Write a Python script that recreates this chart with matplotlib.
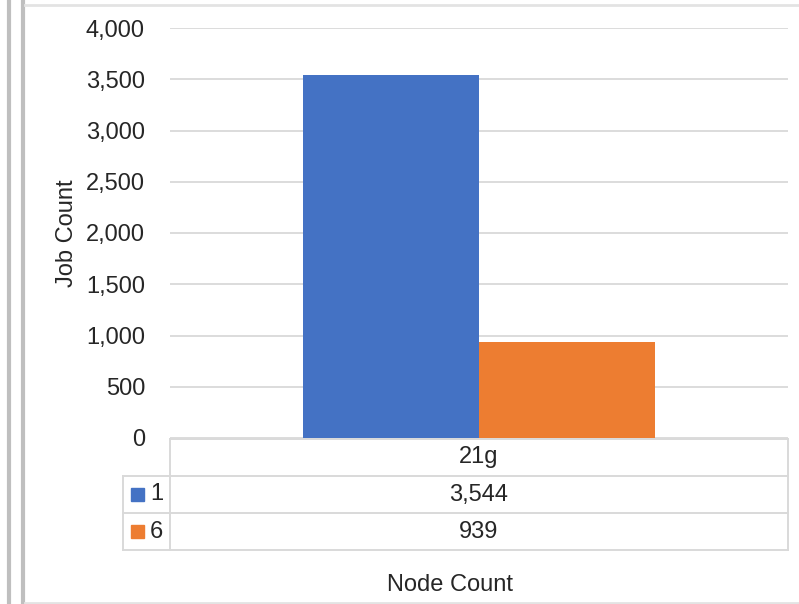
import matplotlib
matplotlib.use("Agg")
import matplotlib.pyplot as plt
from matplotlib.lines import Line2D
from matplotlib.patches import Rectangle

# ---- data ----
categories = ["21g"]
series_names = ["1", "6"]
series_values = [[3544], [939]]
series_colors = ["#4472C4", "#ED7D31"]
y_ticks = [0, 500, 1000, 1500, 2000, 2500, 3000, 3500, 4000]
y_label = "Job Count"
x_label = "Node Count"

W, H = 799, 604
plt.rcParams['font.family'] = ['Liberation Sans', 'DejaVu Sans']
FS = 17
TC = "#262626"
fig = plt.figure(figsize=(W / 100, H / 100), dpi=100)

def fx(px):
    return px / W

def fy(py):
    return 1 - py / H

# axes box in pixel coords
L, R, T, B = 170, 788, 28, 438
ax = fig.add_axes([fx(L), fy(B), fx(R) - fx(L), fy(T) - fy(B)])

bw = 0.285
n = len(series_names)
for i, (name, vals, col) in enumerate(zip(series_names, series_values, series_colors)):
    xs = [c + (i - n / 2) * bw for c in range(len(categories))]
    ax.bar(xs, vals, width=bw, align='edge', color=col, zorder=3)

ax.set_xlim(-0.5, len(categories) - 0.5)
ax.set_ylim(y_ticks[0], y_ticks[-1])
ax.set_yticks(y_ticks)
ax.set_yticklabels([f"{v:,}" for v in y_ticks], fontsize=FS, color=TC)
ax.tick_params(axis='y', length=0, pad=18)
ax.set_xticks([])
ax.grid(axis='y', color="#D9D9D9", linewidth=1.3, zorder=0)
for s in ax.spines.values():
    s.set_visible(False)
ax.set_ylabel(y_label, fontsize=FS, color=TC)
ax.yaxis.set_label_coords((78 - L) / (R - L), 0.5)

# ---- data table ----
lc = "#D9D9D9"
lw = 1.4
rows_y = [439, 476, 513, 550]
tl = 123

def hline(x0, x1, y):
    fig.add_artist(Line2D([fx(x0), fx(x1)], [fy(y), fy(y)], color=lc, lw=lw))

def vline(x, y0, y1):
    fig.add_artist(Line2D([fx(x), fx(x)], [fy(y0), fy(y1)], color=lc, lw=lw))

hline(L, R, rows_y[0])
for y in rows_y[1:]:
    hline(tl, R, y)
vline(L, rows_y[0], rows_y[-1])
vline(R, rows_y[0], rows_y[-1])
vline(tl, rows_y[1], rows_y[-1])

cx = (L + R) / 2
fig.text(fx(cx), fy((rows_y[0] + rows_y[1]) / 2), categories[0], ha='center', va='center',
         fontsize=FS, color=TC)
for i, (name, vals, col) in enumerate(zip(series_names, series_values, series_colors)):
    ymid = (rows_y[i + 1] + rows_y[i + 2]) / 2
    fig.text(fx(cx), fy(ymid), f"{vals[0]:,}", ha='center', va='center', fontsize=FS, color=TC)
    fig.add_artist(Rectangle((fx(131), fy(ymid + 6.5)), fx(13), 13 / H, color=col,
                             transform=fig.transFigure))
    fig.text(fx(150), fy(ymid), name, ha='left', va='center', fontsize=FS, color=TC)

fig.text(fx(450), fy(585), x_label, ha='center', va='center', fontsize=FS, color=TC)

# ---- window frame ----
for x in (9, 23):
    fig.add_artist(Line2D([fx(x), fx(x)], [0, 1], color="#BFBFBF", lw=3))
fig.add_artist(Line2D([fx(25), 1], [fy(5), fy(5)], color="#E3E3E3", lw=2))
fig.add_artist(Line2D([fx(25), 1], [fy(603), fy(603)], color="#E3E3E3", lw=2))

fig.savefig("out.png", dpi=100, facecolor="white")
